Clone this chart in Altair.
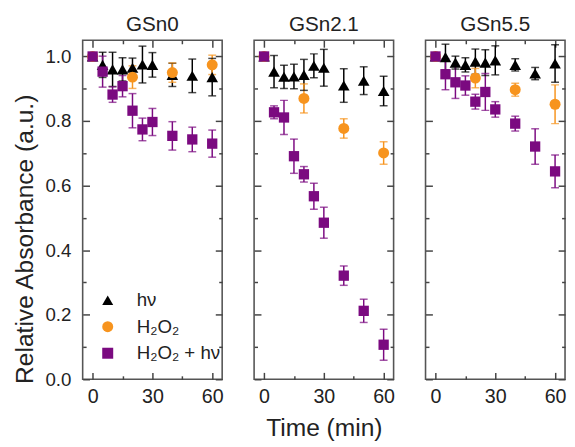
import altair as alt
import pandas as pd

panels = ["GSn0", "GSn2.1", "GSn5.5"]
series_names = ["hν", "H₂O₂", "H₂O₂ + hν"]
series_colors = ["#000000", "#F7941E", "#7B0A80"]
series_shapes = ["triangle-up", "circle", "square"]
series_sizes = [140, 110, 85]

times = [0, 5, 10, 15, 20, 25, 30, 40, 50, 60]
times_h2o2 = [0, 20, 40, 60]

gsn0_hv = [1.0, 0.974, 0.96, 0.96, 0.965, 0.975, 0.974, 0.943, 0.94, 0.936]
gsn0_hv_err = [0.0, 0.039, 0.053, 0.036, 0.03, 0.057, 0.038, 0.036, 0.052, 0.058]
gsn0_h2o2 = [1.0, 0.936, 0.95, 0.974]
gsn0_h2o2_err = [0.0, 0.035, 0.03, 0.03]
gsn0_both = [1.0, 0.953, 0.882, 0.908, 0.832, 0.774, 0.797, 0.754, 0.743, 0.730]
gsn0_both_err = [0.0, 0.048, 0.024, 0.033, 0.053, 0.035, 0.042, 0.044, 0.038, 0.042]

gsn21_hv = [1.0, 0.953, 0.937, 0.938, 0.943, 0.971, 0.965, 0.91, 0.925, 0.893]
gsn21_hv_err = [0.0, 0.05, 0.036, 0.038, 0.048, 0.037, 0.057, 0.052, 0.043, 0.046]
gsn21_h2o2 = [1.0, 0.87, 0.777, 0.701]
gsn21_h2o2_err = [0.0, 0.045, 0.03, 0.035]
gsn21_both = [1.0, 0.827, 0.811, 0.691, 0.635, 0.567, 0.485, 0.321, 0.212, 0.107]
gsn21_both_err = [0.0, 0.02, 0.053, 0.053, 0.024, 0.04, 0.048, 0.03, 0.036, 0.048]

gsn55_hv = [1.0, 0.998, 0.981, 0.974, 0.984, 0.981, 0.988, 0.974, 0.947, 0.978]
gsn55_hv_err = [0.0, 0.04, 0.02, 0.022, 0.039, 0.04, 0.045, 0.019, 0.019, 0.058]
gsn55_h2o2 = [1.0, 0.933, 0.897, 0.852]
gsn55_h2o2_err = [0.0, 0.03, 0.02, 0.06]
gsn55_both = [1.0, 0.945, 0.92, 0.91, 0.86, 0.89, 0.836, 0.792, 0.721, 0.644]
gsn55_both_err = [0.0, 0.048, 0.05, 0.03, 0.023, 0.057, 0.024, 0.023, 0.055, 0.051]

x_major = [0, 30, 60]
x_minor = [15, 45]
y_major = [0.0, 0.2, 0.4, 0.6, 0.8, 1.0]
y_minor = [0.1, 0.3, 0.5, 0.7, 0.9]

rows = []


def add(panel, series, ts, vals, errs):
    for t, v, e in zip(ts, vals, errs):
        rows.append(dict(panel=panel, series=series, t=t, y=v, err=e,
                         lo=v - e, hi=v + e))


add("GSn0", series_names[0], times, gsn0_hv, gsn0_hv_err)
add("GSn0", series_names[1], times_h2o2, gsn0_h2o2, gsn0_h2o2_err)
add("GSn0", series_names[2], times, gsn0_both, gsn0_both_err)
add("GSn2.1", series_names[0], times, gsn21_hv, gsn21_hv_err)
add("GSn2.1", series_names[1], times_h2o2, gsn21_h2o2, gsn21_h2o2_err)
add("GSn2.1", series_names[2], times, gsn21_both, gsn21_both_err)
add("GSn5.5", series_names[0], times, gsn55_hv, gsn55_hv_err)
add("GSn5.5", series_names[1], times_h2o2, gsn55_h2o2, gsn55_h2o2_err)
add("GSn5.5", series_names[2], times, gsn55_both, gsn55_both_err)

df = pd.DataFrame(rows)

FONT = "Liberation Sans"
TICK_COLOR = "#444444"
XS = alt.Scale(domain=[-5, 65], nice=False, zero=False)
YS = alt.Scale(domain=[0, 1.05], nice=False, zero=False)
CS = alt.Scale(domain=series_names, range=series_colors)
SS = alt.Scale(domain=series_names, range=series_shapes)
ZS = alt.Scale(domain=series_names, range=series_sizes)

MAJ = 7
MIN = 3.5


def axis(orient, values, size, labels=False, title=None, fmt=None, **kw):
    args = dict(orient=orient, values=values, tickSize=size, offset=-size,
                domain=False, grid=False, labels=labels, title=title,
                tickColor=TICK_COLOR, tickWidth=1.5)
    if fmt:
        args["format"] = fmt
    args.update(kw)
    return alt.Axis(**args)


def panel_chart(name, first, middle):
    d = df[df.panel == name]
    base = alt.Chart(d)
    bars = base.transform_filter("datum.err > 0")

    if first:
        leg = alt.Legend(orient="bottom-left", offset=16, title=None,
                         labelFontSize=19, symbolSize=125, labelOffset=20,
                         symbolOpacity=1, symbolStrokeWidth=0,
                         rowPadding=7, labelLimit=300, padding=0)
    else:
        leg = None
    color = alt.Color("series:N", scale=CS, legend=leg)
    shape = alt.Shape("series:N", scale=SS, legend=leg)

    rule = bars.mark_rule(strokeWidth=1.5).encode(
        x=alt.X("t:Q", scale=XS, axis=None),
        y=alt.Y("lo:Q", scale=YS, axis=None),
        y2="hi:Q",
        color=color,
    )
    cap_lo = bars.mark_tick(orient="horizontal", size=8, thickness=1.5).encode(
        x=alt.X("t:Q", scale=XS, axis=None),
        y=alt.Y("lo:Q", scale=YS, axis=None),
        color=color,
    )
    cap_hi = bars.mark_tick(orient="horizontal", size=8, thickness=1.5).encode(
        x=alt.X("t:Q", scale=XS, axis=None),
        y=alt.Y("hi:Q", scale=YS, axis=None),
        color=color,
    )

    bottom_kw = dict(labelFontSize=20, labelPadding=8)
    if middle:
        bottom_kw.update(titleFontSize=25, titlePadding=9)
    x_ax = axis("bottom", x_major, MAJ, labels=True,
                title="Time (min)" if middle else None, fmt="d", **bottom_kw)
    left_kw = dict(labelFontSize=19, labelPadding=12)
    if first:
        left_kw.update(titleFontSize=25, titlePadding=8, titleY=202)
    y_ax = axis("left", y_major, MAJ, labels=first,
                title="Relative Absorbance (a.u.)" if first else None,
                fmt=".1f", **left_kw)

    points = base.mark_point(filled=True, opacity=1).encode(
        x=alt.X("t:Q", scale=XS, axis=x_ax),
        y=alt.Y("y:Q", scale=YS, axis=y_ax),
        color=color,
        shape=shape,
        size=alt.Size("series:N", scale=ZS, legend=None),
    )

    def ghost(xa, ya):
        return base.mark_point(opacity=0).encode(
            x=alt.X("t:Q", scale=XS, axis=xa),
            y=alt.Y("y:Q", scale=YS, axis=ya),
        )

    g1 = ghost(axis("bottom", x_minor, MIN), axis("left", y_minor, MIN))
    g2 = ghost(axis("top", x_major, MAJ), axis("right", y_major, MAJ))
    g3 = ghost(axis("top", x_minor, MIN), axis("right", y_minor, MIN))

    return alt.layer(rule, cap_lo, cap_hi, points, g1, g2, g3).resolve_axis(
        x="independent", y="independent"
    ).properties(width=142, height=345, title=name)


charts = [panel_chart(p, i == 0, i == 1) for i, p in enumerate(panels)]

chart = alt.hconcat(*charts, spacing=32.5, bounds="flush").resolve_legend(
    color="independent", shape="independent"
).properties(
    padding={"left": 3, "top": 1, "right": 0, "bottom": 0}
).configure(
    font=FONT
).configure_view(
    stroke="#555555", strokeWidth=1.6
).configure_axis(
    labelFont=FONT, titleFont=FONT, labelColor="#222222",
    titleColor="#222222", titleFontWeight="normal"
).configure_legend(
    labelFont=FONT, labelColor="#222222"
).configure_title(
    font=FONT, fontSize=21, fontWeight="normal", color="#222222", offset=5
)

chart.save("out.html", embed_options={"renderer": "svg", "actions": False})
